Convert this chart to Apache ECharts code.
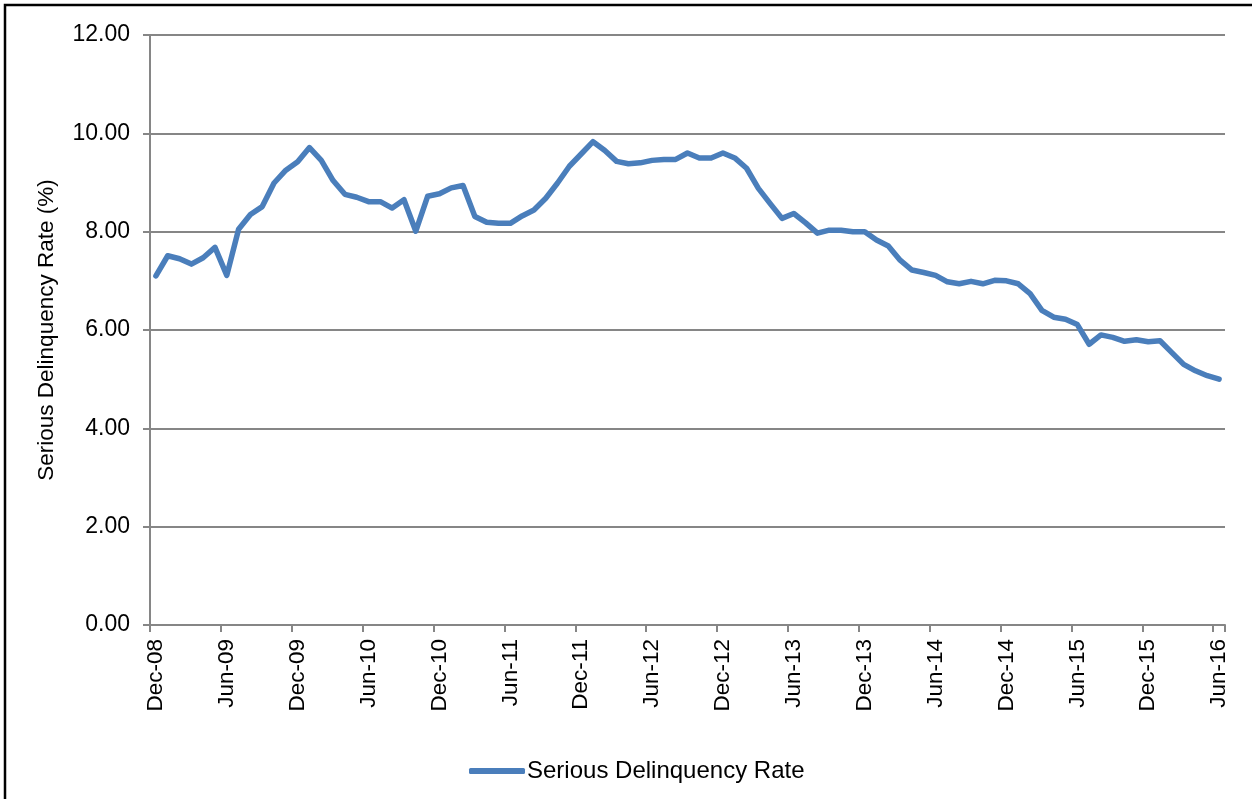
<!DOCTYPE html>
<html>
<head>
<meta charset="utf-8">
<script src="https://cdn.jsdelivr.net/npm/echarts@6/dist/echarts.min.js"></script>
<style>
html,body{margin:0;padding:0;background:#fff;}
#chart{width:1252px;height:799px;}
</style>
</head>
<body>
<div id="chart"></div>
<script>
// Monthly categories: Dec-08 through Jun-16
const monthNames = ['Jan','Feb','Mar','Apr','May','Jun','Jul','Aug','Sep','Oct','Nov','Dec'];
const categories = [];
(function(){
  let m = 11, y = 8;
  while (true) {
    categories.push(monthNames[m] + '-' + String(y).padStart(2,'0'));
    if (m === 5 && y === 16) break;
    m++; if (m === 12) { m = 0; y++; }
  }
})();

const seriesName = 'Serious Delinquency Rate';
const rates = [
  7.10, 7.51, 7.45, 7.34, 7.47, 7.68, 7.11, 8.05, 8.35, 8.51,
  8.99, 9.25, 9.42, 9.71, 9.45, 9.04, 8.76, 8.70, 8.61, 8.61,
  8.48, 8.65, 8.01, 8.72, 8.77, 8.89, 8.94, 8.31, 8.19, 8.17,
  8.17, 8.32, 8.44, 8.68, 8.99, 9.33, 9.58, 9.83, 9.65, 9.43,
  9.38, 9.40, 9.45, 9.47, 9.47, 9.60, 9.50, 9.50, 9.60, 9.50,
  9.29, 8.88, 8.57, 8.27, 8.37, 8.18, 7.97, 8.03, 8.03, 8.00,
  8.00, 7.83, 7.71, 7.42, 7.22, 7.17, 7.11, 6.98, 6.94, 6.99,
  6.94, 7.01, 7.00, 6.94, 6.74, 6.40, 6.26, 6.22, 6.11, 5.71,
  5.90, 5.85, 5.77, 5.80, 5.76, 5.78, 5.54, 5.30, 5.17, 5.07,
  5.00
];
const yAxisTitle = 'Serious Delinquency Rate (%)';

const FONT = '"Liberation Sans", Arial, sans-serif';
const chart = echarts.init(document.getElementById('chart'), null, {renderer:'canvas'});
chart.setOption({
  animation: false,
  backgroundColor: '#ffffff',
  graphic: [{
    type: 'rect',
    shape: {x: 5, y: 5, width: 1400, height: 1000},
    style: {fill: 'none', stroke: '#000', lineWidth: 2.5},
    silent: true
  }],
  grid: {left: 150, right: 27, top: 35, bottom: 174, containLabel: false},
  legend: {
    data: [seriesName],
    left: 464, top: 754,
    icon: 'roundRect',
    itemWidth: 56, itemHeight: 6,
    itemGap: 10,
    textStyle: {fontFamily: FONT, fontSize: 24, color: '#000', padding: [0,0,0,-3]}
  },
  xAxis: {
    type: 'category',
    data: categories,
    boundaryGap: true,
    axisLine: {lineStyle: {color: '#868686', width: 2}},
    axisTick: {show: true, interval: 5, length: 7, lineStyle: {color: '#868686', width: 2}},
    axisLabel: {interval: 5, rotate: 90, margin: 14, fontFamily: FONT, fontSize: 22.5, color: '#000'},
    splitLine: {show: false}
  },
  yAxis: {
    type: 'value',
    min: 0, max: 12, interval: 2,
    name: yAxisTitle,
    nameLocation: 'middle',
    nameGap: 92,
    nameRotate: 90,
    nameTextStyle: {fontFamily: FONT, fontSize: 22.5, color: '#000'},
    axisLine: {show: true, lineStyle: {color: '#868686', width: 2}},
    axisTick: {show: true, inside: false, length: 7, lineStyle: {color: '#868686', width: 2}},
    axisLabel: {margin: 20, fontFamily: FONT, fontSize: 23, color: '#000',
      formatter: v => v.toFixed(2)},
    splitLine: {lineStyle: {color: '#868686', width: 2}}
  },
  series: [{
    name: seriesName,
    type: 'line',
    data: rates,
    symbol: 'none',
    smooth: false,
    lineStyle: {color: '#4a7ebb', width: 5.5, join: 'round', cap: 'round'},
    itemStyle: {color: '#4a7ebb'}
  }]
});
</script>
</body>
</html>
